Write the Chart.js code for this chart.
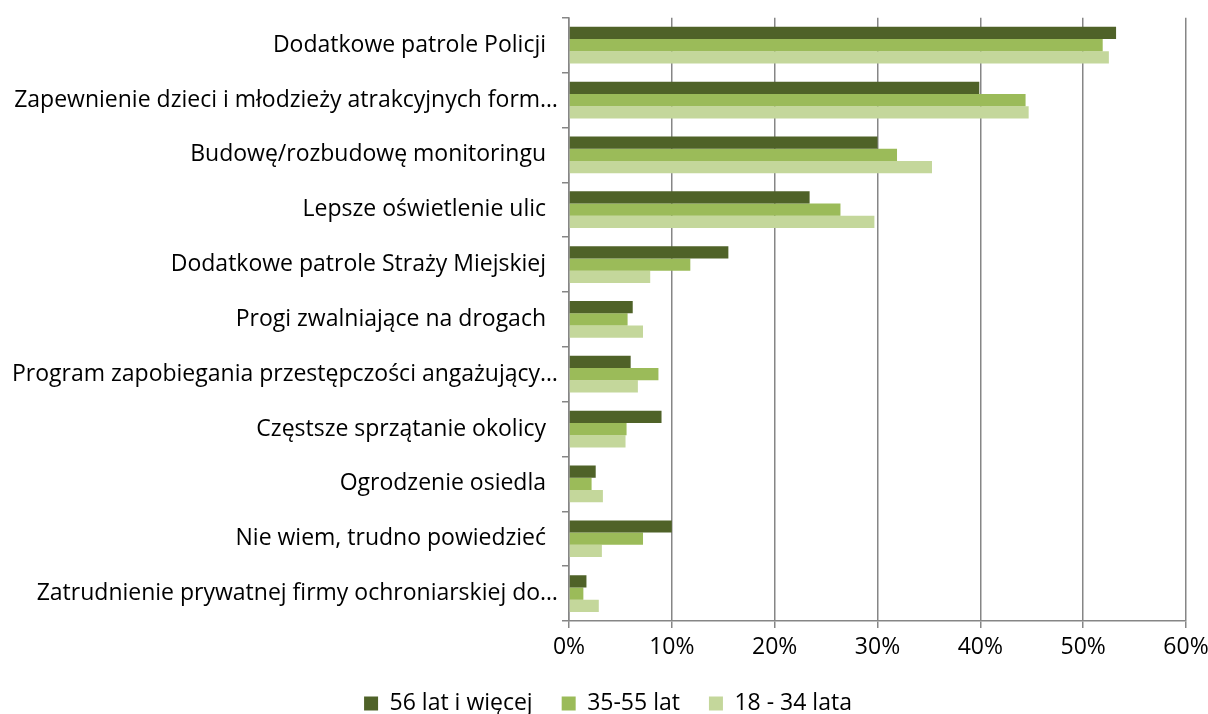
<!DOCTYPE html>
<html>
<head>
<meta charset="utf-8">
<script src="https://cdn.jsdelivr.net/npm/chart.js@4.4.4/dist/chart.umd.min.js"></script>
<style>
  html, body { margin: 0; padding: 0; background: #fff; }
  #wrap { width: 1208px; height: 714px; }
</style>
</head>
<body>
<div id="wrap"><canvas id="chart"></canvas></div>
<script>
// Survey: which measures would improve safety, split by age group (values in %)
const categories = [
  'Dodatkowe patrole Policji',
  'Zapewnienie dzieci i młodzieży atrakcyjnych form…',
  'Budowę/rozbudowę monitoringu',
  'Lepsze oświetlenie ulic',
  'Dodatkowe patrole Straży Miejskiej',
  'Progi zwalniające na drogach',
  'Program zapobiegania przestępczości angażujący…',
  'Częstsze sprzątanie okolicy',
  'Ogrodzenie osiedla',
  'Nie wiem, trudno powiedzieć',
  'Zatrudnienie prywatnej firmy ochroniarskiej do…',
];

const age56plus = [53.2, 39.9, 30.0, 23.4, 15.5, 6.2, 6.0, 9.0, 2.6, 10.0, 1.7];
const age35to55 = [51.9, 44.4, 31.9, 26.4, 11.8, 5.7, 8.7, 5.6, 2.2, 7.2, 1.4];
const age18to34 = [52.5, 44.7, 35.3, 29.7, 7.9, 7.2, 6.7, 5.5, 3.3, 3.2, 2.9];

const xTicks = [0, 10, 20, 30, 40, 50, 60];

const FONT = '"Open Sans", sans-serif';
const FONT_SIZE = 23;
const GRID = '#868686';

new Chart(document.getElementById('chart'), {
  type: 'bar',
  data: {
    labels: categories,
    datasets: [
      { label: '56 lat i więcej', data: age56plus, backgroundColor: '#4f6228' },
      { label: '35-55 lat', data: age35to55, backgroundColor: '#9bbb59' },
      { label: '18 - 34 lata', data: age18to34, backgroundColor: '#c4d79b' },
    ],
  },
  options: {
    indexAxis: 'y',
    responsive: true,
    maintainAspectRatio: false,
    animation: false,
    datasets: { bar: { categoryPercentage: 0.67, barPercentage: 1.0 } },
    layout: { padding: { top: 15, right: 0, left: 8, bottom: 0 } },
    plugins: {
      tooltip: { enabled: false },
      legend: {
        position: 'bottom',
        maxHeight: 51,
        labels: {
          color: '#000',
          font: { family: FONT, size: FONT_SIZE },
          boxWidth: 14,
          boxHeight: 14,
          padding: 29,
        },
      },
    },
    scales: {
      x: {
        min: 0,
        max: 60,
        afterBuildTicks: (axis) => { axis.ticks = xTicks.map((v) => ({ value: v })); },
        // tighter box than Chart.js computes, so the axis sits where the original does
        afterFit: (axis) => { axis.paddingRight = 22; axis.height = 42; },
        grid: { color: GRID, lineWidth: 1.5, tickLength: 7, drawTicks: true },
        border: { color: GRID, width: 1.5 },
        ticks: {
          color: '#000',
          padding: 8,
          font: { family: FONT, size: FONT_SIZE, lineHeight: 1 },
          callback: (v) => `${v}%`,
        },
      },
      y: {
        grid: { display: true, drawOnChartArea: false, color: GRID, lineWidth: 1.5, tickLength: 7, offset: true },
        border: { color: GRID, width: 1.5 },
        ticks: {
          color: '#000',
          padding: 4,
          font: { family: FONT, size: FONT_SIZE },
          callback: function (v) {
            const s = this.getLabelForValue(v);
            return s.endsWith('…') ? s : s + '  ';
          },
        },
      },
    },
  },
});
</script>
</body>
</html>
